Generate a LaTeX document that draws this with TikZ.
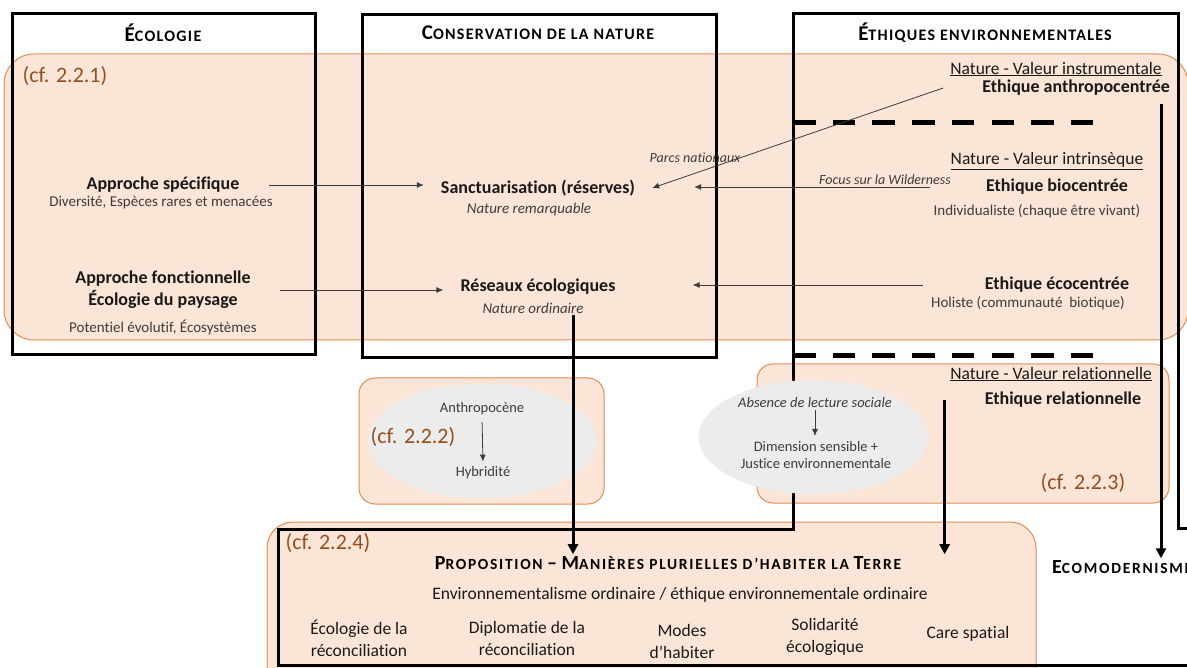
\documentclass[tikz,border=0pt]{standalone}
\usepackage{fontspec}
\setmainfont{Carlito}[Ligatures=NoCommon]
\usetikzlibrary{arrows.meta}
\definecolor{peche}{RGB}{251,229,214}
\definecolor{orangebord}{RGB}{226,140,80}
\definecolor{brun}{RGB}{150,78,30}
\definecolor{grisbulle}{RGB}{236,236,236}
\definecolor{texte}{RGB}{25,25,25}
\definecolor{gristexte}{RGB}{60,60,60}
\newcommand{\pcap}[3]{{\fontsize{#1}{#1}\selectfont\addfontfeatures{LetterSpace=#2}#3}}
\begin{document}
\begin{tikzpicture}[x=1pt, y=-1pt,
    entete/.style={font=\bfseries\fontsize{21}{25}\selectfont, text=black, inner sep=2pt},
    titre/.style={font=\bfseries\fontsize{18}{22}\selectfont, text=texte, align=center, inner sep=2pt},
    sous/.style={font=\fontsize{15}{18}\selectfont, text=gristexte, align=center, inner sep=2pt},
    sousit/.style={font=\itshape\fontsize{15}{18}\selectfont, text=gristexte, align=center, inner sep=2pt},
    legende/.style={font=\itshape\fontsize{14}{17}\selectfont, text=gristexte, inner sep=1pt},
    valeur/.style={font=\fontsize{17.5}{21}\selectfont, text=texte, inner sep=2pt},
    renvoi/.style={font=\fontsize{22}{26}\selectfont, text=brun, inner sep=1pt},
    bas/.style={font=\fontsize{17.5}{22}\selectfont, text=texte, align=center, inner sep=2pt},
    bloc/.style={fill=peche, draw=orangebord, line width=1pt},
    cadre/.style={draw=black, line width=3pt},
    tirets/.style={draw=black, line width=5pt, dash pattern=on 22.5pt off 17.2pt},
    fin/.style={draw=gristexte, line width=0.8pt, -{Latex[length=7pt,width=6pt]}},
    grosse/.style={draw=black, line width=3pt, -{Triangle[length=10pt,width=10pt]}}]
    \useasboundingbox (0,0) rectangle (1187,668);

    \draw[bloc, rounded corners=30pt] (4,54) rectangle (1188,340);
    \draw[bloc, rounded corners=16pt] (359,378) rectangle (604,504);
    \draw[bloc, rounded corners=16pt] (757,364) rectangle (1169,503);
    \draw[bloc, rounded corners=26pt] (267,522) rectangle (1036,720);

    \draw[cadre] (12,14) rectangle (315,355);
    \draw[cadre] (362,15) rectangle (716,358);
    \draw[cadre] (1200,528) -- (1178,528) -- (1178,14) -- (793,14) -- (793,529)
        -- (278,529) -- (278,665) -- (1200,665);
    \draw[tirets] (793,123) -- (1094,123);
    \draw[tirets] (793,356) -- (1094,356);

    \fill[grisbulle] (482,441) ellipse [x radius=114pt, y radius=57.5pt];
    \fill[grisbulle] (813,437) ellipse [x radius=114.5pt, y radius=57pt];

    \node[entete] (ecol) at (163,33) {É\pcap{16}{8}{COLOGIE}};
    \node[entete] (cons) at (538,33) {C\pcap{16}{8}{ONSERVATION DE LA NATURE}};
    \node[entete] (ethi) at (985,33) {É\pcap{16}{8}{THIQUES ENVIRONNEMENTALES}};

    \node[renvoi] (cf1) at (65,76) {(cf. 2.2.1)};
    \node[renvoi] (cf2) at (413,437) {(cf. 2.2.2)};
    \node[renvoi] (cf3) at (1083,483) {(cf. 2.2.3)};
    \node[renvoi] (cf4) at (328,543) {(cf. 2.2.4)};

    \node[titre] (specif) at (163,185) {Approche spécifique};
    \node[sous] (specifsub) at (161,203) {Diversité, Espèces rares et menacées};
    \node[titre] (fonct) at (163,290) {Approche fonctionnelle\\Écologie du paysage};
    \node[sous] (fonctsub) at (163,327) {Potentiel évolutif, Écosystèmes};

    \node[titre] (sanct) at (538,188) {Sanctuarisation (réserves)};
    \node[sousit] (sanctsub) at (529,210) {Nature remarquable};
    \node[titre] (reseau) at (538,287) {Réseaux écologiques};
    \node[sousit] (reseausub) at (533,308) {Nature ordinaire};

    \node[valeur] (instr) at (1056,69) {\underline{Nature - Valeur instrumentale}};
    \node[titre, anchor=east] (anthropo) at (1172,88) {Ethique anthropocentrée};
    \node[valeur] (intrin) at (1047,161) {\underline{Nature - Valeur intrinsèque}};
    \node[titre] (bio) at (1057,187) {Ethique biocentrée};
    \node[sous] (biosub) at (1037,211) {Individualiste (chaque être vivant)};
    \node[titre] (eco) at (1057,285) {Ethique écocentrée};
    \node[sous] (ecosub) at (1028,303) {Holiste (communauté\ \ biotique)};

    \node[legende] (parcs) at (695,158) {Parcs nationaux};
    \node[legende] (wild) at (885,180) {Focus sur la Wilderness};

    \node[sous, font=\fontsize{14.5}{17.5}\selectfont] (anthro) at (482,409) {Anthropocène};
    \node[sous, font=\fontsize{14.5}{17.5}\selectfont] (hybrid) at (483,473) {Hybridité};
    \node[sousit, font=\itshape\fontsize{14.5}{17.5}\selectfont] (absence) at (815,403) {Absence de lecture sociale};
    \node[sous, font=\fontsize{14.5}{17.5}\selectfont] (dimension) at (816,455) {Dimension sensible +\\Justice environnementale};

    \node[valeur] (relval) at (1051,374) {\underline{Nature - Valeur relationnelle}};
    \node[titre] (relat) at (1063,400) {Ethique relationnelle};

    \node[entete, font=\bfseries\fontsize{20}{24}\selectfont] (propo) at (668,563) {P\pcap{15.5}{11}{ROPOSITION}~– M\pcap{15.5}{11}{ANIÈRES PLURIELLES D’HABITER LA} T\pcap{15.5}{11}{ERRE}};
    \node[bas] (envord) at (680,595) {Environnementalisme ordinaire / éthique environnementale ordinaire};
    \node[bas] (reconc) at (359,638) {Écologie de la\\réconciliation};
    \node[bas] (diplo) at (527,638) {Diplomatie de la\\réconciliation};
    \node[bas] (modes) at (682,641) {Modes\\d’habiter};
    \node[bas] (solid) at (825,637) {Solidarité\\écologique};
    \node[bas] (care) at (968,634) {Care spatial};
    \node[entete, font=\bfseries\fontsize{20}{24}\selectfont, anchor=west] (ecomod) at (1050,567) {E\pcap{15.5}{11}{COMODERNISME}};

    \draw[fin, shorten <=27pt, shorten >=15pt] (specif.east) -- (specif.east -| sanct.west);
    \draw[fin, shorten <=27pt, shorten >=15pt] (fonct.east) -- (fonct.east -| reseau.west);
    \draw[fin] ([xshift=-37pt]anthropo.west) -- ([xshift=15pt]sanct.east);
    \draw[fin, shorten <=54pt, shorten >=57pt] (bio.west) -- (bio.west -| sanct.east);
    \draw[fin, shorten <=60pt, shorten >=75pt] (eco.west) -- (eco.west -| reseau.east);
    \draw[fin, shorten <=5pt, shorten >=3pt] (anthro.south) -- (hybrid.north);
    \draw[fin, shorten >=3pt] (absence.south) -- (absence.south |- dimension.north);

    \coordinate (depart1) at ([xshift=40pt]reseausub.south);
    \coordinate (depart2) at ([xshift=-38pt]relat.west);
    \coordinate (depart3) at ([xshift=-11pt,yshift=-6pt]anthropo.south east);
    \draw[grosse] (depart1) -- (depart1 |- propo.north);
    \draw[grosse] (depart2) -- (depart2 |- propo.north);
    \draw[grosse] (depart3) -- (depart3 |- ecomod.north);
\end{tikzpicture}
\end{document}
